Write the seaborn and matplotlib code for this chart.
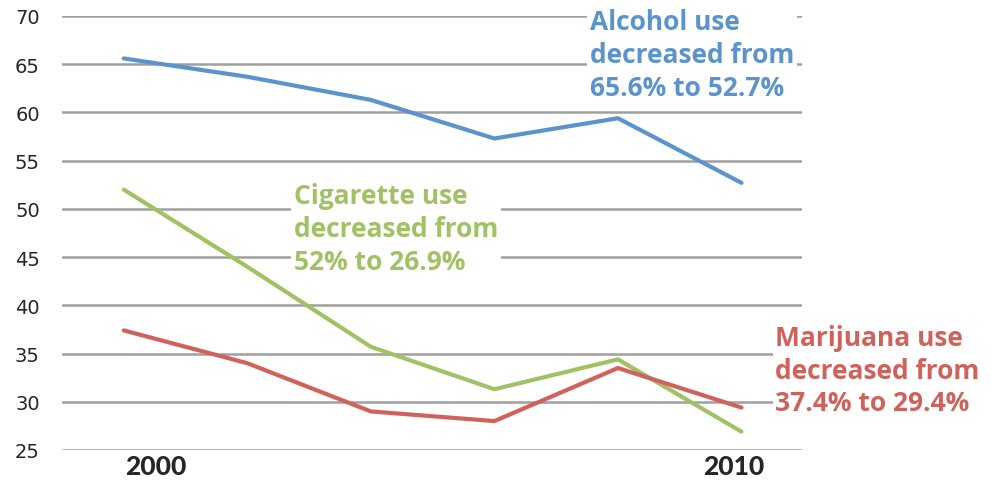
import pandas as pd
import numpy as np
import matplotlib
matplotlib.use('Agg')
import matplotlib.pyplot as plt
import seaborn as sns

years = [2000, 2002, 2004, 2006, 2008, 2010]
alcohol = [65.6, 63.7, 61.3, 57.3, 59.4, 52.7]
cigarette = [52.0, 44.0, 35.7, 31.3, 34.4, 26.9]
marijuana = [37.4, 34.0, 29.0, 28.0, 33.5, 29.4]
y_ticks = [25, 30, 35, 40, 45, 50, 55, 60, 65, 70]
x_labels = ['2000', '2010']

BLUE = '#5B93CD'
GREEN = '#A1C264'
RED = '#D0625C'

df = pd.DataFrame({
    'year': years * 3,
    'pct': alcohol + cigarette + marijuana,
    'substance': ['Alcohol'] * 6 + ['Cigarette'] * 6 + ['Marijuana'] * 6,
})

sns.set_style('white')
plt.rcParams['font.family'] = ['DejaVu Sans']

fig = plt.figure(figsize=(9.91, 4.81), dpi=100)
ax = fig.add_axes([62 / 991, 30 / 481, 740 / 991, 434 / 481])

sns.lineplot(data=df, x='year', y='pct', hue='substance',
             palette=[BLUE, GREEN, RED], linewidth=3, legend=False,
             ax=ax, zorder=3)

ax.set_xlim(1999.0, 2010.98)
ax.set_ylim(25, 70)
ax.set_yticks(y_ticks)
ax.set_yticklabels([str(t) for t in y_ticks], fontsize=14)
ax.tick_params(axis='y', length=0, pad=16)
ax.yaxis.grid(True, color='#A0A0A0', linewidth=1.8, zorder=1)
ax.xaxis.grid(False)
ax.set_xticks([])
ax.set_xlabel('')
ax.set_ylabel('')
for s in ax.spines.values():
    s.set_visible(False)

# year labels under the axis
lab_kw = dict(fontsize=19, fontweight='black', family='Lato', va='top',
              transform=ax.get_xaxis_transform())
ax.text(years[0] + 0.03, -0.01, x_labels[0], ha='left', **lab_kw)
ax.text(years[-1] + 0.37, -0.01, x_labels[1], ha='right', **lab_kw)

box = dict(facecolor='white', edgecolor='none', pad=2)
ann_kw = dict(fontsize=19, fontweight='bold', family='Open Sans', va='top',
              ha='left', linespacing=1.28, zorder=5, bbox=box, clip_on=False)

ax.text(2007.55, 70.8, 'Alcohol use\ndecreased from\n65.6% to 52.7%',
        color=BLUE, **ann_kw)
ax.text(2002.75, 52.8, 'Cigarette use\ndecreased from\n52% to 26.9%',
        color=GREEN, **ann_kw)
ax.text(2010.55, 38.1, 'Marijuana use\ndecreased from\n37.4% to 29.4%',
        color=RED, **ann_kw)

fig.savefig('out.png', dpi=100)
